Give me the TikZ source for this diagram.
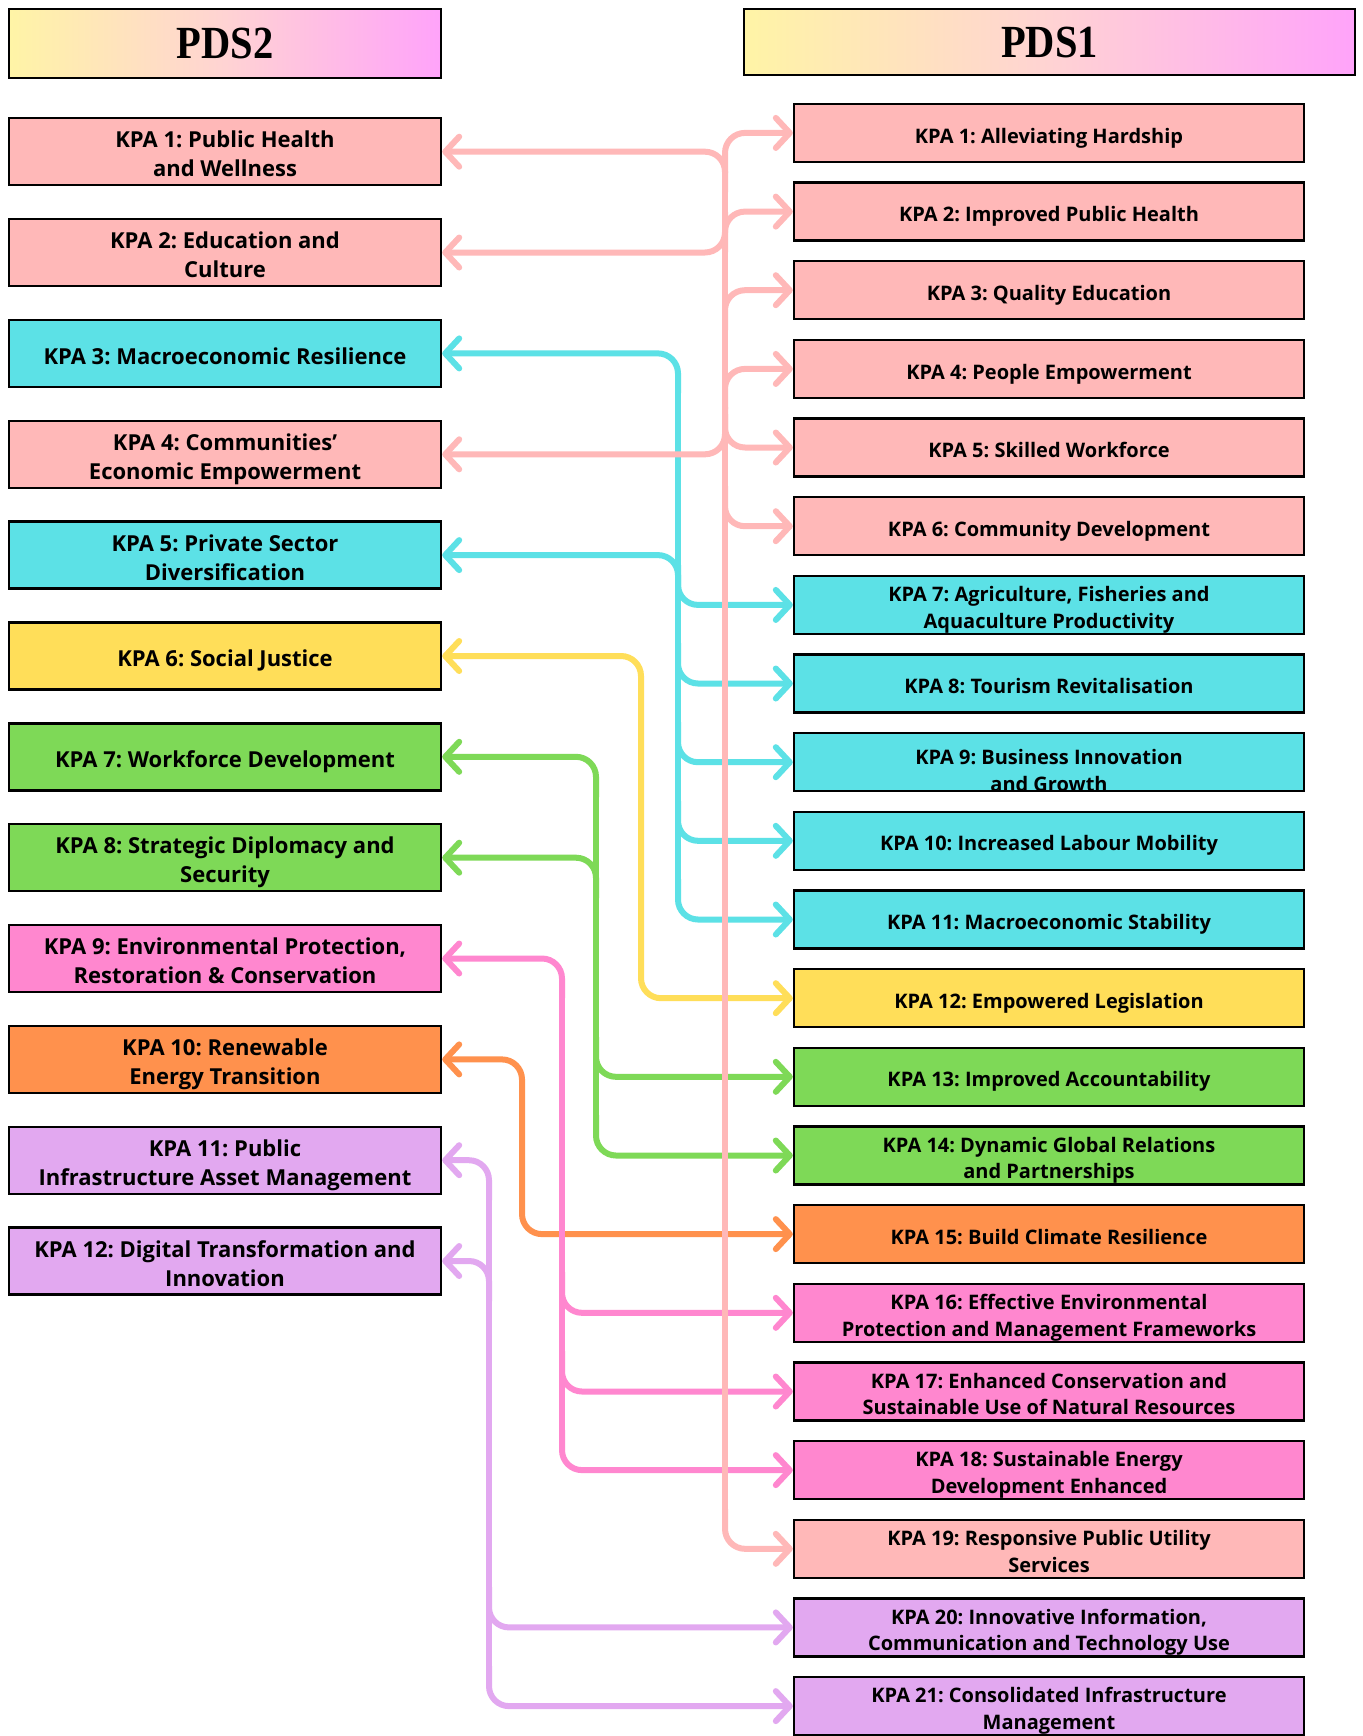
\documentclass[tikz,border=0pt]{standalone}
\usepackage{fontspec}
\setmainfont{Open Sans}
\newfontfamily\hdrfont{Liberation Serif}
\usepackage{graphicx}
\usetikzlibrary{arrows.meta}
\frenchspacing
\newcommand\bxt[1]{\raisebox{-2.4pt}[\height][\depth]{\begin{tabular}{@{}c@{}}#1\end{tabular}}}
\definecolor{cPink}{HTML}{FFB8B8}
\definecolor{cCyan}{HTML}{5CE1E6}
\definecolor{cYellow}{HTML}{FFDE59}
\definecolor{cGreen}{HTML}{7ED957}
\definecolor{cHot}{HTML}{FF87CF}
\definecolor{cOrange}{HTML}{FF914D}
\definecolor{cLav}{HTML}{E2A8F0}
\definecolor{hY}{HTML}{FFF4A6}
\definecolor{hP}{HTML}{FFD3D3}
\definecolor{hV}{HTML}{FFA3FA}
\tikzset{
  lbox/.style={draw=black, line width=1.2pt, minimum width=216pt, minimum height=33.5pt, inner sep=0pt, align=center, font=\bfseries\fontsize{11}{14.6}\selectfont},
  rbox/.style={draw=black, line width=1.2pt, minimum width=255pt, minimum height=29pt, inner sep=0pt, align=center, font=\bfseries\fontsize{10}{13.3}\selectfont},
  rtext/.style={inner sep=0pt, align=center, font=\bfseries\fontsize{10}{13.3}\selectfont},
  hdr/.style={draw=black, line width=1.2pt, left color=hY, right color=hV, middle color=hP, inner sep=0pt, font=\hdrfont\bfseries\fontsize{23}{24}\selectfont},
  conn/.style={line width=3pt, rounded corners=10pt},
  >={Straight Barb[length=7pt,width=15pt,round]}
}
\begin{document}
\begin{tikzpicture}[x=0.5pt,y=-0.5pt]
\fill[white] (0,0) rectangle (1362,1736);
\clip (0,0) rectangle (1362,1736);
% headers
\node[hdr, minimum width=216pt, minimum height=34.5pt] (H2) at (225,43.5) {\scalebox{0.88}[1]{PDS2}};
\node[hdr, minimum width=305.5pt, minimum height=33pt] (H1) at (1049.5,42) {\scalebox{0.88}[1]{PDS1}};
% left boxes
\node[lbox, fill=cPink]   (L1)  at (225,151.7)  {\bxt{KPA 1: Public Health\\and Wellness}};
\node[lbox, fill=cPink]   (L2)  at (225,252.5)  {\bxt{KPA 2: Education and\\Culture}};
\node[lbox, fill=cCyan]   (L3)  at (225,353.4)  {\bxt{KPA 3: Macroeconomic Resilience}};
\node[lbox, fill=cPink]   (L4)  at (225,454.3)  {\bxt{KPA 4: Communities’\\Economic Empowerment}};
\node[lbox, fill=cCyan]   (L5)  at (225,555.1)  {\bxt{KPA 5: Private Sector\\Diversification}};
\node[lbox, fill=cYellow] (L6)  at (225,656)    {\bxt{KPA 6: Social Justice}};
\node[lbox, fill=cGreen]  (L7)  at (225,756.8)  {\bxt{KPA 7: Workforce Development}};
\node[lbox, fill=cGreen]  (L8)  at (225,857.7)  {\bxt{KPA 8: Strategic Diplomacy and\\Security}};
\node[lbox, fill=cHot]    (L9)  at (225,958.5)  {\bxt{KPA 9: Environmental Protection,\\Restoration \& Conservation}};
\node[lbox, fill=cOrange] (L10) at (225,1059.4) {\bxt{KPA 10: Renewable\\Energy Transition}};
\node[lbox, fill=cLav]    (L11) at (225,1160.2) {\bxt{KPA 11: Public\\Infrastructure Asset Management}};
\node[lbox, fill=cLav]    (L12) at (225,1261)   {\bxt{KPA 12: Digital Transformation and\\Innovation}};
% right boxes
\node[rbox, fill=cPink]   (R1)  at (1049,132.9)  {\bxt{KPA 1: Alleviating Hardship}};
\node[rbox, fill=cPink]   (R2)  at (1049,211.6)  {\bxt{KPA 2: Improved Public Health}};
\node[rbox, fill=cPink]   (R3)  at (1049,290.2)  {\bxt{KPA 3: Quality Education}};
\node[rbox, fill=cPink]   (R4)  at (1049,368.9)  {\bxt{KPA 4: People Empowerment}};
\node[rbox, fill=cPink]   (R5)  at (1049,447.5)  {\bxt{KPA 5: Skilled Workforce}};
\node[rbox, fill=cPink]   (R6)  at (1049,526.2)  {\bxt{KPA 6: Community Development}};
\node[rbox, fill=cCyan]   (R7)  at (1049,604.9)  {\bxt{KPA 7: Agriculture, Fisheries and\\Aquaculture Productivity}};
\node[rbox, fill=cCyan]   (R8)  at (1049,683.5)  {\bxt{KPA 8: Tourism Revitalisation}};
\node[rbox, fill=cCyan]   (R9)  at (1049,762.2)  {};
\node[rtext] (R9t) at ([yshift=-4pt]R9.center) {KPA 9: Business Innovation\\and Growth};
\node[rbox, fill=cCyan]   (R10) at (1049,840.8)  {\bxt{KPA 10: Increased Labour Mobility}};
\node[rbox, fill=cCyan]   (R11) at (1049,919.5)  {\bxt{KPA 11: Macroeconomic Stability}};
\node[rbox, fill=cYellow] (R12) at (1049,998.2)  {\bxt{KPA 12: Empowered Legislation}};
\node[rbox, fill=cGreen]  (R13) at (1049,1076.8) {\bxt{KPA 13: Improved Accountability}};
\node[rbox, fill=cGreen]  (R14) at (1049,1155.5) {\bxt{KPA 14: Dynamic Global Relations\\and Partnerships}};
\node[rbox, fill=cOrange] (R15) at (1049,1234.1) {\bxt{KPA 15: Build Climate Resilience}};
\node[rbox, fill=cHot]    (R16) at (1049,1312.8) {\bxt{KPA 16: Effective Environmental\\Protection and Management Frameworks}};
\node[rbox, fill=cHot]    (R17) at (1049,1391.5) {\bxt{KPA 17: Enhanced Conservation and\\Sustainable Use of Natural Resources}};
\node[rbox, fill=cHot]    (R18) at (1049,1470.1) {\bxt{KPA 18: Sustainable Energy\\Development Enhanced}};
\node[rbox, fill=cPink]   (R19) at (1049,1548.8) {\bxt{KPA 19: Responsive Public Utility\\Services}};
\node[rbox, fill=cLav]    (R20) at (1049,1627.4) {\bxt{KPA 20: Innovative Information,\\Communication and Technology Use}};
\node[rbox, fill=cLav]    (R21) at (1049,1706.1) {\bxt{KPA 21: Consolidated Infrastructure\\Management}};
% ---- connectors ----
% lavender (trunk x=489)
\draw[conn, cLav] (489,1180) -- (489,1686);
\draw[conn, cLav, <-] (L11.east) -| (489,1200);
\draw[conn, cLav, <-] (L12.east) -| (489,1301);
\draw[conn, cLav, ->] (489,1587) |- (R20.west);
\draw[conn, cLav, ->] (489,1666) |- (R21.west);
% orange (x=522)
\draw[conn, cOrange, <->] (L10.east) -| (522,1150) |- (R15.west);
% hot pink (x=562)
\draw[conn, cHot] (562,978) -- (562,1450);
\draw[conn, cHot, <-] (L9.east) -| (562,998);
\draw[conn, cHot, ->] (562,1272) |- (R16.west);
\draw[conn, cHot, ->] (562,1351) |- (R17.west);
\draw[conn, cHot, ->] (562,1430) |- (R18.west);
% green (x=596)
\draw[conn, cGreen] (596,777) -- (596,1135);
\draw[conn, cGreen, <-] (L7.east) -| (596,797);
\draw[conn, cGreen, <-] (L8.east) -| (596,898);
\draw[conn, cGreen, ->] (596,1037) |- (R13.west);
\draw[conn, cGreen, ->] (596,1115) |- (R14.west);
% yellow (x=641)
\draw[conn, cYellow, <->] (L6.east) -| (641,820) |- (R12.west);
% cyan (x=678)
\draw[conn, cCyan] (678,373) -- (678,899);
\draw[conn, cCyan, <-] (L3.east) -| (678,393);
\draw[conn, cCyan, <-] (L5.east) -| (678,595);
\draw[conn, cCyan, ->] (678,565) |- (R7.west);
\draw[conn, cCyan, ->] (678,643) |- (R8.west);
\draw[conn, cCyan, ->] (678,722) |- (R9.west);
\draw[conn, cCyan, ->] (678,801) |- (R10.west);
\draw[conn, cCyan, ->] (678,879) |- (R11.west);
% light pink (x=725)
\draw[conn, cPink] (725,153) -- (725,1529);
\draw[conn, cPink, <-] (L1.east) -| (725,192);
\draw[conn, cPink, <-] (L2.east) -| (725,212);
\draw[conn, cPink, <-] (L4.east) -| (725,414);
\draw[conn, cPink, ->] (725,173) |- (R1.west);
\draw[conn, cPink, ->] (725,252) |- (R2.west);
\draw[conn, cPink, ->] (725,330) |- (R3.west);
\draw[conn, cPink, ->] (725,409) |- (R4.west);
\draw[conn, cPink, ->] (725,407) |- (R5.west);
\draw[conn, cPink, ->] (725,486) |- (R6.west);
\draw[conn, cPink, ->] (725,1509) |- (R19.west);
\end{tikzpicture}
\end{document}
